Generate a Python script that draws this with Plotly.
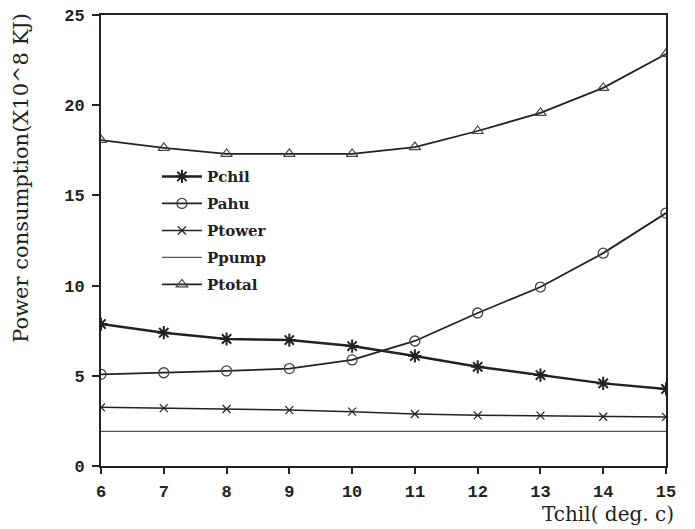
import plotly.graph_objects as go

tchil = [6, 7, 8, 9, 10, 11, 12, 13, 14, 15]
p_chil = [7.87, 7.39, 7.04, 6.98, 6.65, 6.10, 5.50, 5.04, 4.58, 4.27]
p_ahu = [5.08, 5.17, 5.27, 5.40, 5.88, 6.93, 8.48, 9.92, 11.80, 14.02]
p_tower = [3.25, 3.21, 3.16, 3.10, 3.01, 2.88, 2.81, 2.79, 2.73, 2.72]
p_pump = [1.92, 1.92, 1.92, 1.92, 1.92, 1.92, 1.92, 1.92, 1.92, 1.92]
p_total = [18.07, 17.63, 17.30, 17.30, 17.30, 17.68, 18.57, 19.57, 20.96, 22.84]

x_ticks = [6, 7, 8, 9, 10, 11, 12, 13, 14, 15]
y_ticks = [0, 5, 10, 15, 20, 25]

ink = "#222222"
fig = go.Figure()
fig.add_trace(go.Scatter(x=tchil, y=p_chil, name="Pchil", mode="lines+markers", legendgroup="a",
                         line=dict(color=ink, width=2.5),
                         marker=dict(symbol="asterisk-open", size=11, line=dict(color=ink, width=2))))
fig.add_trace(go.Scatter(x=tchil, y=p_ahu, name="Pahu", mode="lines+markers", legendgroup="b",
                         line=dict(color=ink, width=1.8),
                         marker=dict(symbol="circle-open", size=10, color="#444", line=dict(color="#444", width=1.3))))
fig.add_trace(go.Scatter(x=tchil, y=p_tower, name="Ptower", mode="lines+markers", legendgroup="c",
                         line=dict(color=ink, width=1.5),
                         marker=dict(symbol="x-thin-open", size=8, line=dict(color="#555", width=1.2))))
fig.add_trace(go.Scatter(x=tchil, y=p_pump, name="Ppump", mode="lines", legendgroup="d",
                         line=dict(color="#555", width=1.3)))
fig.add_trace(go.Scatter(x=tchil, y=p_total, name="Ptotal", mode="lines+markers", legendgroup="e",
                         line=dict(color=ink, width=1.8),
                         marker=dict(symbol="triangle-up-open", size=10, color="#444", line=dict(color="#444", width=1.2))))

fig.update_layout(
    width=687, height=521,
    margin=dict(l=93, r=29, t=7, b=63),
    paper_bgcolor="white", plot_bgcolor="white",
    font=dict(family="Liberation Serif", color=ink),
    showlegend=True,
    legend=dict(x=0.099, y=0.678, xanchor="left", yanchor="top",
                bgcolor="rgba(255,255,255,0)", tracegroupgap=4.5,
                font=dict(family="DejaVu Serif", size=15, color=ink, weight="bold"),
                itemwidth=40),
    xaxis=dict(range=[6, 15], tickvals=x_ticks, ticktext=[str(v) for v in x_ticks],
               automargin=False, ticklabelstandoff=3, ticklabeloverflow="allow",
               showgrid=False, zeroline=False, showline=True, linecolor=ink, linewidth=2,
               mirror=True, ticks="outside", ticklen=6, tickwidth=2, tickcolor=ink,
               tickfont=dict(family="Liberation Mono", size=17, color=ink, weight="bold")),
    yaxis=dict(range=[0, 25], tickvals=y_ticks, ticktext=[str(v) for v in y_ticks],
               automargin=False, ticklabelstandoff=4, ticklabeloverflow="allow",
               showgrid=False, zeroline=False, showline=True, linecolor=ink, linewidth=2,
               mirror=True, ticks="outside", ticklen=7, tickwidth=2, tickcolor=ink,
               tickfont=dict(family="Liberation Mono", size=17, color=ink, weight="bold")),
)
fig.add_annotation(text="Power consumption(X10^8 KJ)", xref="paper", yref="paper",
                   x=0, y=0.639, xanchor="center", yanchor="middle", xshift=-80,
                   textangle=-90, showarrow=False,
                   font=dict(family="DejaVu Serif", size=21, color=ink))
fig.add_annotation(text="Tchil( deg. c)", xref="paper", yref="paper", x=1.0, y=0,
                   xanchor="right", yanchor="top", yshift=-34, xshift=10, showarrow=False,
                   font=dict(family="DejaVu Serif", size=20, color=ink))

fig.write_html("out.html")
